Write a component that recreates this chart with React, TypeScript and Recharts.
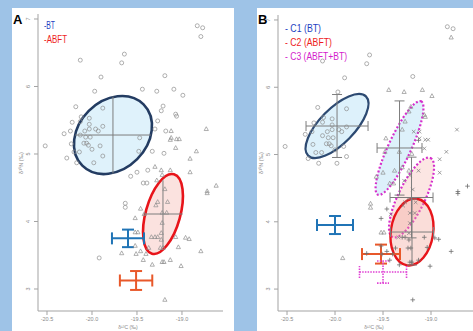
import { ComposedChart, Scatter, Line, XAxis, YAxis, ErrorBar } from "recharts";

type Pt = { x: number; y: number; c: string };

// c = marker used in panel B: o = C1, t / x = C3, p = C2
const btPoints: Pt[] = [
  { x: -18.83, y: 6.9, c: "o" }, { x: -18.77, y: 6.87, c: "o" }, { x: -18.79, y: 6.74, c: "t" },
  { x: -19.64, y: 6.48, c: "o" }, { x: -19.67, y: 6.35, c: "o" }, { x: -20.13, y: 6.39, c: "o" },
  { x: -19.9, y: 6.14, c: "o" }, { x: -19.19, y: 6.16, c: "o" }, { x: -19.97, y: 5.93, c: "o" },
  { x: -19.44, y: 5.96, c: "t" }, { x: -19.28, y: 5.93, c: "t" }, { x: -19.09, y: 5.96, c: "t" },
  { x: -18.99, y: 5.87, c: "t" }, { x: -20.18, y: 5.7, c: "o" }, { x: -19.21, y: 5.71, c: "t" },
  { x: -19.23, y: 5.64, c: "t" }, { x: -19.07, y: 5.59, c: "t" }, { x: -19.06, y: 5.56, c: "t" },
  { x: -19.27, y: 5.49, c: "t" }, { x: -19.3, y: 5.37, c: "t" }, { x: -19.18, y: 5.34, c: "x" },
  { x: -20.52, y: 5.12, c: "o" }, { x: -20.31, y: 5.3, c: "o" }, { x: -20.24, y: 5.34, c: "o" },
  { x: -20.23, y: 5.15, c: "o" }, { x: -20.28, y: 4.94, c: "o" }, { x: -20.22, y: 5.47, c: "o" },
  { x: -20.12, y: 5.55, c: "o" }, { x: -20.13, y: 5.48, c: "o" }, { x: -20.03, y: 5.53, c: "o" },
  { x: -20.03, y: 5.44, c: "o" }, { x: -19.88, y: 5.68, c: "o" }, { x: -19.88, y: 5.41, c: "o" },
  { x: -19.96, y: 5.37, c: "o" }, { x: -19.93, y: 5.34, c: "o" }, { x: -20.03, y: 5.37, c: "o" },
  { x: -20.08, y: 5.34, c: "o" }, { x: -20.13, y: 5.28, c: "o" }, { x: -20.07, y: 5.25, c: "o" },
  { x: -20.02, y: 5.25, c: "o" }, { x: -20.09, y: 5.16, c: "o" }, { x: -20.06, y: 5.16, c: "o" },
  { x: -20.04, y: 5.13, c: "o" }, { x: -19.91, y: 5.12, c: "o" }, { x: -20.2, y: 5.03, c: "o" },
  { x: -20.14, y: 5.03, c: "o" }, { x: -20.0, y: 5.07, c: "o" }, { x: -19.88, y: 4.97, c: "o" },
  { x: -19.98, y: 4.87, c: "o" }, { x: -20.17, y: 4.87, c: "o" }, { x: -19.33, y: 5.04, c: "t" },
  { x: -19.2, y: 5.01, c: "t" }, { x: -19.47, y: 5.24, c: "t" }, { x: -19.48, y: 5.04, c: "t" },
  { x: -19.5, y: 4.73, c: "t" }, { x: -19.38, y: 4.76, c: "t" }, { x: -19.57, y: 4.67, c: "t" },
  { x: -19.43, y: 4.57, c: "t" }, { x: -19.39, y: 4.57, c: "t" }, { x: -19.63, y: 4.27, c: "t" },
  { x: -19.63, y: 4.21, c: "t" }, { x: -19.92, y: 3.46, c: "t" },
];

const abftPoints: Pt[] = [
  { x: -19.12, y: 5.34, c: "x" }, { x: -18.73, y: 5.37, c: "x" }, { x: -19.12, y: 5.24, c: "x" },
  { x: -19.13, y: 5.21, c: "p" }, { x: -19.06, y: 5.22, c: "x" }, { x: -19.03, y: 5.22, c: "x" },
  { x: -19.07, y: 5.09, c: "x" }, { x: -18.84, y: 5.04, c: "x" }, { x: -18.91, y: 4.93, c: "x" },
  { x: -19.3, y: 4.81, c: "t" }, { x: -19.23, y: 4.76, c: "t" }, { x: -19.22, y: 4.69, c: "x" },
  { x: -19.13, y: 4.76, c: "x" }, { x: -18.91, y: 4.73, c: "x" }, { x: -19.28, y: 4.61, c: "x" },
  { x: -18.62, y: 4.53, c: "p" }, { x: -18.72, y: 4.42, c: "p" }, { x: -18.72, y: 4.45, c: "p" },
  { x: -19.19, y: 4.48, c: "x" }, { x: -19.27, y: 4.29, c: "x" }, { x: -19.29, y: 4.24, c: "x" },
  { x: -19.16, y: 4.29, c: "x" }, { x: -19.17, y: 4.13, c: "x" }, { x: -19.22, y: 4.13, c: "x" },
  { x: -19.46, y: 4.19, c: "p" }, { x: -19.42, y: 4.11, c: "x" }, { x: -19.52, y: 4.05, c: "p" },
  { x: -19.22, y: 3.98, c: "x" }, { x: -19.49, y: 3.84, c: "t" }, { x: -19.52, y: 3.84, c: "t" },
  { x: -19.34, y: 3.77, c: "x" }, { x: -19.3, y: 3.77, c: "p" }, { x: -19.27, y: 3.77, c: "p" },
  { x: -19.23, y: 3.83, c: "x" }, { x: -19.23, y: 3.73, c: "p" }, { x: -19.07, y: 3.77, c: "p" },
  { x: -18.96, y: 3.76, c: "p" }, { x: -18.92, y: 3.74, c: "p" }, { x: -19.04, y: 3.62, c: "p" },
  { x: -19.24, y: 3.61, c: "p" }, { x: -19.21, y: 3.61, c: "p" }, { x: -19.52, y: 3.64, c: "p" },
  { x: -19.46, y: 3.56, c: "p" }, { x: -19.51, y: 3.52, c: "p" }, { x: -19.4, y: 3.52, c: "p" },
  { x: -19.33, y: 3.36, c: "p" }, { x: -19.43, y: 3.43, c: "p" }, { x: -19.22, y: 3.4, c: "p" },
  { x: -19.2, y: 3.4, c: "p" }, { x: -19.13, y: 3.43, c: "p" }, { x: -19.01, y: 3.34, c: "p" },
  { x: -18.79, y: 3.56, c: "p" }, { x: -19.19, y: 2.84, c: "p" }, { x: -19.67, y: 3.53, c: "p" },
  { x: -19.37, y: 3.61, c: "p" },
];

const xTicks = [-20.5, -20, -19.5, -19];
const yTicks = [3, 4, 5, 6, 7];

// ellipses: centre, end of one semi-axis, end of the conjugate semi-axis
const ellipseBT = [{ x: -19.767, y: 5.281 }, { x: -19.427, y: 5.735 }, { x: -19.498, y: 4.923 }];
const ellipseABFT = [{ x: -19.211, y: 4.111 }, { x: -19.089, y: 4.699 }, { x: -19.026, y: 4.043 }];
const ellipseC1 = [{ x: -19.979, y: 5.424 }, { x: -19.678, y: 5.864 }, { x: -19.85, y: 5.242 }];
const ellipseC3a = [{ x: -19.328, y: 5.097 }, { x: -19.103, y: 5.791 }, { x: -19.221, y: 5.025 }];
const ellipseC3b = [{ x: -19.203, y: 4.361 }, { x: -19.005, y: 4.949 }, { x: -19.077, y: 4.274 }];
const ellipseC2 = [{ x: -19.198, y: 3.848 }, { x: -19.146, y: 4.343 }, { x: -18.98, y: 3.801 }];

// mean +- sd crosses
const crossBT = [{ x: -19.767, y: 5.281, ex: 0.42, ey: 0.57 }];
const crossABFT = [{ x: -19.211, y: 4.111, ex: 0.22, ey: 0.5 }];
const crossC1 = [{ x: -19.979, y: 5.424, ex: 0.323, ey: 0.468 }];
const crossC3a = [{ x: -19.328, y: 5.097, ex: 0.234, ey: 0.7 }];
const crossC3b = [{ x: -19.203, y: 4.361, ex: 0.224, ey: 0.6 }];
const crossC2 = [{ x: -19.198, y: 3.848, ex: 0.224, ey: 0.49 }];

// source (reference) bars
const refBlueA = [{ x: -19.6, y: 3.75, ex: 0.178, ey: 0.13 }];
const refOrangeA = [{ x: -19.51, y: 3.126, ex: 0.18, ey: 0.14 }];
const refBlueB = [{ x: -20.0, y: 3.952, ex: 0.1875, ey: 0.134 }];
const refOrangeB = [{ x: -19.521, y: 3.52, ex: 0.198, ey: 0.141 }];
const refMagentaB = [{ x: -19.5, y: 3.253, ex: 0.245, ey: 0.164 }];

const allPoints = [...btPoints, ...abftPoints];
const bC1 = allPoints.filter((d) => d.c === "o");
const bTri = allPoints.filter((d) => d.c === "t");
const bX = allPoints.filter((d) => d.c === "x");
const bPlus = allPoints.filter((d) => d.c === "p");

const MARK = "#8e8e8e";
const AXIS = "#a3a3a3";
const FONT = "Liberation Sans, Arial, sans-serif";

function ellipseCurve(ctx: any) {
  let pts: number[][] = [];
  return {
    areaStart() {},
    areaEnd() {},
    lineStart() {
      pts = [];
    },
    point(x: number, y: number) {
      pts.push([+x, +y]);
    },
    lineEnd() {
      if (pts.length < 3) return;
      const [c, p, q] = pts;
      const a = [p[0] - c[0], p[1] - c[1]];
      const b = [q[0] - c[0], q[1] - c[1]];
      const at = (s: number, t: number) => [c[0] + s * a[0] + t * b[0], c[1] + s * a[1] + t * b[1]];
      const quad = [[1, 0], [0, 1], [-1, 0], [0, -1]];
      const k = 0.5523;
      const s0 = at(1, 0);
      ctx.moveTo(s0[0], s0[1]);
      for (let i = 0; i < 4; i++) {
        const u = quad[i];
        const v = quad[(i + 1) % 4];
        const c1 = at(u[0] + k * v[0], u[1] + k * v[1]);
        const c2 = at(v[0] + k * u[0], v[1] + k * u[1]);
        const e = at(v[0], v[1]);
        ctx.bezierCurveTo(c1[0], c1[1], c2[0], c2[1], e[0], e[1]);
      }
      ctx.closePath();
    },
  };
}

const circleShape = (p: any) => <circle cx={p.cx} cy={p.cy} r={2} fill="none" stroke={MARK} strokeWidth={0.7} />;
const triShape = (p: any) => (
  <path d={`M${p.cx},${p.cy - 2.3}L${p.cx + 2.1},${p.cy + 1.5}L${p.cx - 2.1},${p.cy + 1.5}Z`} fill="none" stroke={MARK} strokeWidth={0.7} />
);
const plusShape = (p: any) => (
  <path d={`M${p.cx - 2.3},${p.cy}H${p.cx + 2.3}M${p.cx},${p.cy - 2.3}V${p.cy + 2.3}`} stroke="#6e6e6e" strokeWidth={0.8} />
);
const crossShape = (p: any) => (
  <path d={`M${p.cx - 1.8},${p.cy - 1.8}L${p.cx + 1.8},${p.cy + 1.8}M${p.cx - 1.8},${p.cy + 1.8}L${p.cx + 1.8},${p.cy - 1.8}`} stroke="#7a7a7a" strokeWidth={0.7} />
);
const noShape = () => <g />;

const XTick = ({ x, y, payload }: any) => (
  <text x={x} y={y + 4} textAnchor="middle" fontSize={5.5} fill="#8a8a8a" fontFamily={FONT}>
    {payload.value.toFixed(1)}
  </text>
);
const YTick = ({ x, y, payload }: any) => (
  <text x={x - 2} y={y} textAnchor="middle" fontSize={5.5} fill="#8a8a8a" fontFamily={FONT} transform={`rotate(-90 ${x - 2} ${y})`}>
    {payload.value}
  </text>
);

function Ellipse({ data, cls, stroke, width, dash }: any) {
  return (
    <Line
      data={data}
      dataKey="y"
      type={ellipseCurve as any}
      className={cls}
      stroke={stroke}
      strokeWidth={width}
      strokeDasharray={dash}
      dot={false}
      activeDot={false}
      legendType="none"
      isAnimationActive={false}
    />
  );
}

function Axes({ domain, top }: { domain: number[]; top?: boolean }) {
  return [
    <XAxis
      key="xb"
      type="number"
      dataKey="x"
      domain={domain}
      ticks={xTicks}
      allowDataOverflow
      height={12}
      tickSize={4}
      tick={<XTick />}
      tickLine={{ stroke: AXIS }}
      axisLine={{ stroke: AXIS }}
    />,
    <XAxis key="xt" xAxisId="top" orientation="top" type="number" domain={domain} allowDataOverflow height={0} tick={false} tickLine={false} axisLine={{ stroke: AXIS }} />,
    <YAxis
      key="yl"
      type="number"
      dataKey="y"
      domain={[2.674, 7.074]}
      ticks={yTicks}
      allowDataOverflow
      width={14}
      tickSize={4}
      tick={<YTick />}
      tickLine={{ stroke: AXIS }}
      axisLine={{ stroke: AXIS }}
    />,
    top ? <YAxis key="yr" yAxisId="right" orientation="right" type="number" domain={[2.674, 7.074]} width={0} tick={false} tickLine={false} axisLine={{ stroke: AXIS }} /> : null,
  ];
}

export default function App() {
  return (
    <div style={{ position: "absolute", left: 0, top: 0, width: 473, height: 331, overflow: "hidden", background: "#9ec3e7" }}>
      <style>{`
        .e-bt .recharts-line-curve { fill: rgba(175, 222, 245, 0.4); }
        .e-abft .recharts-line-curve { fill: rgba(245, 175, 165, 0.36); }
        .e-c1 .recharts-line-curve { fill: rgba(175, 222, 245, 0.42); }
        .e-c3a .recharts-line-curve { fill: rgba(175, 222, 245, 0.42); }
        .e-c3b .recharts-line-curve { fill: rgba(245, 180, 170, 0.33); }
        .e-c2 .recharts-line-curve { fill: rgba(240, 160, 150, 0.36); }
      `}</style>
      <div style={{ position: "absolute", left: 12, top: 8, width: 222, height: 330, background: "#fff" }} />
      <div style={{ position: "absolute", left: 257, top: 8, width: 220, height: 330, background: "#fff" }} />

      <div style={{ position: "absolute", left: 0, top: 0 }}>
        <ComposedChart width={234} height={331} margin={{ top: 14, right: 11, bottom: 8, left: 24 }}>
          {Axes({ domain: [-20.6, -18.544], top: true })}
          <Ellipse data={ellipseBT} cls="e-bt" stroke="#233c62" width={2.6} />
          <Ellipse data={ellipseABFT} cls="e-abft" stroke="#e8141a" width={2.6} />
          <Scatter data={btPoints} shape={circleShape} isAnimationActive={false} />
          <Scatter data={abftPoints} shape={triShape} isAnimationActive={false} />
          <Scatter data={crossBT} shape={noShape} isAnimationActive={false}>
            <ErrorBar dataKey="ex" direction="x" width={0} stroke="#7d7d7d" strokeWidth={1} />
            <ErrorBar dataKey="ey" direction="y" width={0} stroke="#7d7d7d" strokeWidth={1} />
          </Scatter>
          <Scatter data={crossABFT} shape={noShape} isAnimationActive={false}>
            <ErrorBar dataKey="ex" direction="x" width={0} stroke="#7d7d7d" strokeWidth={1} />
            <ErrorBar dataKey="ey" direction="y" width={0} stroke="#7d7d7d" strokeWidth={1} />
          </Scatter>
          <Scatter data={refBlueA} shape={noShape} isAnimationActive={false}>
            <ErrorBar dataKey="ex" direction="x" width={6} stroke="#2074b6" strokeWidth={2} />
            <ErrorBar dataKey="ey" direction="y" width={6} stroke="#2074b6" strokeWidth={2} />
          </Scatter>
          <Scatter data={refOrangeA} shape={noShape} isAnimationActive={false}>
            <ErrorBar dataKey="ex" direction="x" width={6} stroke="#e8582a" strokeWidth={2} />
            <ErrorBar dataKey="ey" direction="y" width={6} stroke="#e8582a" strokeWidth={2} />
          </Scatter>
        </ComposedChart>
      </div>

      <div style={{ position: "absolute", left: 257, top: 0 }}>
        <ComposedChart width={237} height={331} margin={{ top: 15, right: 10, bottom: 8, left: 7 }}>
          {Axes({ domain: [-20.594, -18.448] })}
          <Ellipse data={ellipseC1} cls="e-c1" stroke="#2d4a72" width={2.2} />
          <Ellipse data={ellipseC3a} cls="e-c3a" stroke="#d52fcb" width={2.2} dash="2 2" />
          <Ellipse data={ellipseC3b} cls="e-c3b" stroke="#d52fcb" width={2.2} dash="2 2" />
          <Ellipse data={ellipseC2} cls="e-c2" stroke="#e8141a" width={2.4} />
          <Scatter data={bC1} shape={circleShape} isAnimationActive={false} />
          <Scatter data={bTri} shape={triShape} isAnimationActive={false} />
          <Scatter data={bX} shape={crossShape} isAnimationActive={false} />
          <Scatter data={bPlus} shape={plusShape} isAnimationActive={false} />
          {[crossC1, crossC3a, crossC3b, crossC2].map((d, i) => (
            <Scatter key={i} data={d} shape={noShape} isAnimationActive={false}>
              <ErrorBar dataKey="ex" direction="x" width={5} stroke="#7d7d7d" strokeWidth={1} />
              <ErrorBar dataKey="ey" direction="y" width={5} stroke="#7d7d7d" strokeWidth={1} />
            </Scatter>
          ))}
          <Scatter data={refBlueB} shape={noShape} isAnimationActive={false}>
            <ErrorBar dataKey="ex" direction="x" width={6} stroke="#2074b6" strokeWidth={2} />
            <ErrorBar dataKey="ey" direction="y" width={6} stroke="#2074b6" strokeWidth={2} />
          </Scatter>
          <Scatter data={refOrangeB} shape={noShape} isAnimationActive={false}>
            <ErrorBar dataKey="ex" direction="x" width={6} stroke="#e8582a" strokeWidth={2} />
            <ErrorBar dataKey="ey" direction="y" width={6} stroke="#e8582a" strokeWidth={2} />
          </Scatter>
          <Scatter data={refMagentaB} shape={noShape} isAnimationActive={false}>
            <ErrorBar dataKey="ex" direction="x" width={6} stroke="#e040d4" strokeWidth={1.6} strokeDasharray="1.5 1.2" />
            <ErrorBar dataKey="ey" direction="y" width={6} stroke="#e040d4" strokeWidth={1.6} strokeDasharray="1.5 1.2" />
          </Scatter>
        </ComposedChart>
      </div>

      <svg width={473} height={331} style={{ position: "absolute", left: 0, top: 0, pointerEvents: "none" }} fontFamily={FONT}>
        <text x={13} y={24} fontSize={13} fontWeight="bold" fill="#000">A</text>
        <text x={258} y={24} fontSize={13} fontWeight="bold" fill="#000">B</text>
        <text x={44} y={29} fontSize={11} fill="#1d3fc2" textLength={11} lengthAdjust="spacingAndGlyphs">-BT</text>
        <text x={44} y={43} fontSize={11} fill="#ee1c1c" textLength={23} lengthAdjust="spacingAndGlyphs">-ABFT</text>
        <text x={285} y={32} fontSize={11.5} fill="#1d3fc2" textLength={36} lengthAdjust="spacingAndGlyphs">- C1 (BT)</text>
        <text x={285} y={46} fontSize={11.5} fill="#ee1c1c" textLength={47} lengthAdjust="spacingAndGlyphs">- C2 (ABFT)</text>
        <text x={285} y={60} fontSize={11.5} fill="#d41ccc" textLength={62} lengthAdjust="spacingAndGlyphs">- C3 (ABFT+BT)</text>
        <text x={23} y={163} fontSize={5.5} fill="#8a8a8a" textAnchor="middle" transform="rotate(-90 23 163)">δ¹⁵N (‰)</text>
        <text x={263} y={163} fontSize={5.5} fill="#8a8a8a" textAnchor="middle" transform="rotate(-90 263 163)">δ¹⁵N (‰)</text>
        <text x={128} y={328.5} fontSize={5} fill="#8a8a8a" textAnchor="middle">δ¹³C (‰)</text>
        <text x={374} y={328.5} fontSize={5} fill="#8a8a8a" textAnchor="middle">δ¹³C (‰)</text>
      </svg>
    </div>
  );
}
